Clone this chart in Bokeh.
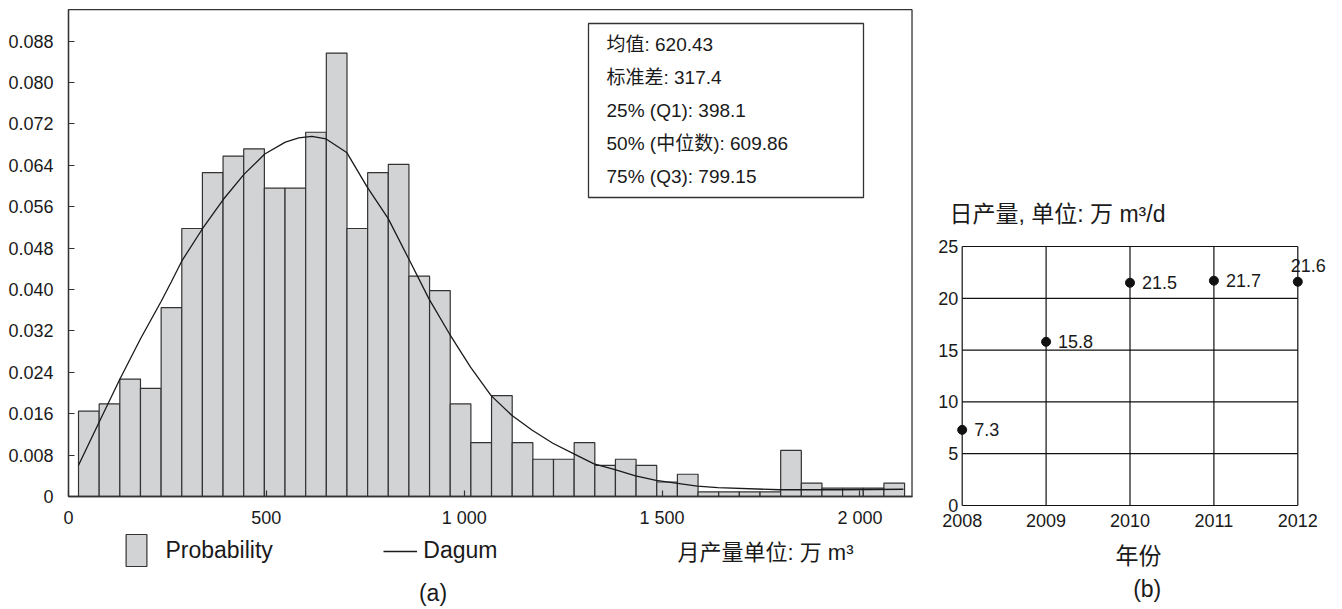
from bokeh.plotting import figure
from bokeh.models import (Range1d, FixedTicker, CustomJSTickFormatter, Label, LabelSet,
                          BoxAnnotation, Legend, LegendItem, ColumnDataSource)
from bokeh.layouts import row
from bokeh.embed import file_html
from bokeh.resources import INLINE
from bokeh.core.properties import value

# ---------------- data: panel (a) ----------------
bin_edges = [25.3, 77.5, 129.7, 181.9, 234.1, 286.3, 338.4, 390.6, 442.8, 495.0,
             547.2, 599.4, 651.6, 703.8, 756.0, 808.2, 860.3, 912.5, 964.7, 1016.9,
             1069.1, 1121.3, 1173.5, 1225.7, 1277.9, 1330.1, 1382.2, 1434.4, 1486.6, 1538.8,
             1591.0, 1643.2, 1695.4, 1747.6, 1799.8, 1852.0, 1904.1, 1956.3, 2008.5, 2060.7,
             2112.9]
probability = [0.0165, 0.0179, 0.0227, 0.0209, 0.0365, 0.0518, 0.0626, 0.0658, 0.0672, 0.0596,
               0.0596, 0.0704, 0.0857, 0.0518, 0.0626, 0.0642, 0.0426, 0.0398, 0.0179, 0.0104,
               0.0195, 0.0104, 0.0072, 0.0072, 0.0104, 0.0060, 0.0072, 0.0060, 0.0028, 0.0043,
               0.0009, 0.0009, 0.0009, 0.0009, 0.0089, 0.0026, 0.0016, 0.0016, 0.0016, 0.0026]
dagum_x = [25, 77, 130, 182, 234, 260, 287, 339, 391, 444, 496, 548, 582, 615, 651, 703, 755,
           808, 860, 911, 963, 1016, 1068, 1120, 1172, 1224, 1276, 1328, 1381, 1433, 1485, 1589,
           1641, 1798, 1950, 2110]
dagum_y = [0.0060, 0.0143, 0.0227, 0.0305, 0.0377, 0.0415, 0.0456, 0.0518, 0.0574, 0.0623,
           0.0662, 0.0685, 0.0693, 0.0696, 0.0691, 0.0665, 0.0598, 0.0537, 0.0459, 0.0382,
           0.0314, 0.0250, 0.0195, 0.0157, 0.0128, 0.0103, 0.0083, 0.0063, 0.0052, 0.0040,
           0.0031, 0.0020, 0.0017, 0.0013, 0.0013, 0.0014]
x_ticks = [0, 500, 1000, 1500, 2000]
y_ticks = [0, 0.008, 0.016, 0.024, 0.032, 0.040, 0.048, 0.056, 0.064, 0.072, 0.080, 0.088]
stats_lines = ["均值: 620.43", "标准差: 317.4", "25% (Q1): 398.1",
               "50% (中位数): 609.86", "75% (Q3): 799.15"]
legend_labels = ["Probability", "Dagum"]
x_title_a = "月产量单位: 万 m³"

# ---------------- data: panel (b) ----------------
years = [2008, 2009, 2010, 2011, 2012]
daily_output = [7.3, 15.8, 21.5, 21.7, 21.6]
y2_ticks = [0, 5, 10, 15, 20, 25]
title_b = "日产量, 单位: 万 m³/d"
x_title_b = "年份"

LATIN = "Liberation Sans"
MIXED = "Liberation Sans, Noto Sans CJK SC"
INK = "#1a1a1a"
EDGE = "#333333"

# ---- panel (a) geometry: the frame fills the canvas; the axis box is drawn inside ----
A_W, A_H = 915, 609
A_LEFT = 68            # px of x = 0
A_PX_X = 0.3957        # px per unit along x
A_ZERO_Y = 496         # px (from top) of y = 0
A_PX_Y = 5174.0        # px per unit along y
X_BOX_END = 2131.7     # right edge of the axis box
Y_BOX_TOP = 0.0941     # top edge of the axis box
x1_start = -A_LEFT / A_PX_X
x1_end = (A_W - A_LEFT) / A_PX_X
y1_start = -(A_H - A_ZERO_Y) / A_PX_Y
y1_end = A_ZERO_Y / A_PX_Y

p1 = figure(width=A_W, height=A_H, x_range=Range1d(x1_start, x1_end),
            y_range=Range1d(y1_start, y1_end),
            output_backend="svg", toolbar_location=None, min_border=0)
p1.background_fill_color = "white"
p1.border_fill_color = "white"
p1.outline_line_color = None
p1.xgrid.visible = False
p1.ygrid.visible = False

r_bar = p1.quad(left=bin_edges[:-1], right=bin_edges[1:], bottom=0, top=probability,
                fill_color="#d2d3d5", line_color=EDGE, line_width=1.2)
r_line = p1.line(dagum_x, dagum_y, line_color=INK, line_width=1.3)

# axis box
p1.add_layout(BoxAnnotation(left=0, right=X_BOX_END, bottom=0, top=Y_BOX_TOP,
                            fill_color=None, fill_alpha=0, line_color=EDGE,
                            line_alpha=1.0, line_width=1.3))

xa = p1.xaxis[0]
xa.fixed_location = 0
xa.bounds = (0, X_BOX_END)
xa.ticker = FixedTicker(ticks=x_ticks)
xa.formatter = CustomJSTickFormatter(code="""
const t = Math.round(tick);
if (t >= 1000) { const r = t % 1000; return Math.floor(t/1000) + " " + (r < 10 ? "00" : (r < 100 ? "0" : "")) + r; }
return String(t);
""")
ya = p1.yaxis[0]
ya.fixed_location = 0
ya.bounds = (0, Y_BOX_TOP)
ya.ticker = FixedTicker(ticks=y_ticks)
ya.formatter = CustomJSTickFormatter(code='return tick == 0 ? "0" : tick.toFixed(3);')
for ax in (xa, ya):
    ax.major_tick_in = 6
    ax.major_tick_out = 0
    ax.minor_tick_line_color = None
    ax.axis_line_color = EDGE
    ax.axis_line_width = 1.3
    ax.major_tick_line_color = EDGE
    ax.major_tick_line_width = 1.2
    ax.major_label_text_font = LATIN
    ax.major_label_text_font_size = "18px"
    ax.major_label_text_color = INK
xa.major_label_standoff = 11
ya.major_label_standoff = 15

# statistics box (screen units, from the frame's bottom-left corner)
p1.add_layout(BoxAnnotation(left=588, right=863, bottom=412, top=586,
                            left_units="screen", right_units="screen",
                            bottom_units="screen", top_units="screen",
                            fill_color=None, fill_alpha=0, line_color=EDGE,
                            line_alpha=1.0, line_width=1.3))
stat_y = [565.5, 532, 499, 466, 433]
for txt, yy in zip(stats_lines, stat_y):
    p1.add_layout(Label(x=606, y=yy, x_units="screen", y_units="screen", text=txt,
                        text_font=MIXED, text_font_size="19px", text_color=INK,
                        text_baseline="middle", text_align="left"))

# legends under the axis box
leg1 = Legend(items=[LegendItem(label=legend_labels[0], renderers=[r_bar])],
              location=(123.4, 39), orientation="horizontal",
              glyph_width=26, glyph_height=40, label_standoff=16,
              padding=0, margin=0, spacing=0, border_line_color=None,
              background_fill_alpha=0, label_text_font=LATIN,
              label_text_font_size="23px", label_text_color=INK)
leg2 = Legend(items=[LegendItem(label=legend_labels[1], renderers=[r_line])],
              location=(383.3, 45), orientation="horizontal",
              glyph_width=34, glyph_height=20, label_standoff=6,
              padding=0, margin=0, spacing=0, border_line_color=None,
              background_fill_alpha=0, label_text_font=LATIN,
              label_text_font_size="23px", label_text_color=INK)
p1.add_layout(leg1)
p1.add_layout(leg2)

p1.add_layout(Label(x=677, y=57, x_units="screen", y_units="screen", text=x_title_a,
                    text_font=MIXED, text_font_size="22px", text_color=INK,
                    text_baseline="middle", text_align="left"))
p1.add_layout(Label(x=432.5, y=17, x_units="screen", y_units="screen", text="(a)",
                    text_font=LATIN, text_font_size="23px", text_color=INK,
                    text_baseline="middle", text_align="center"))

# ---- panel (b) geometry: frame fills the whole canvas ----
B_W, B_H = 427, 609
B_X0 = 46.7            # px of 2008
B_PX_X = 83.9          # px per year
B_Y0 = 505.0           # px (from top) of 0
B_PX_Y = 10.36         # px per unit
x2_start = years[0] - B_X0 / B_PX_X
x2_end = years[0] + (B_W - B_X0) / B_PX_X
y2_start = -(B_H - B_Y0) / B_PX_Y
y2_end = B_Y0 / B_PX_Y

p2 = figure(width=B_W, height=B_H, x_range=Range1d(x2_start, x2_end),
            y_range=Range1d(y2_start, y2_end),
            output_backend="svg", toolbar_location=None, min_border=0)
p2.background_fill_color = "white"
p2.border_fill_color = "white"
p2.outline_line_color = None
p2.xgrid.visible = False
p2.ygrid.visible = False

# grid box built from the tick lists
p2.segment(x0=years, y0=[y2_ticks[0]] * len(years), x1=years, y1=[y2_ticks[-1]] * len(years),
           line_color="#111111", line_width=1.2)
p2.segment(x0=[years[0]] * len(y2_ticks), y0=y2_ticks, x1=[years[-1]] * len(y2_ticks), y1=y2_ticks,
           line_color="#111111", line_width=1.2)

p2.scatter(years, daily_output, size=9, color="#111111")

xb = p2.xaxis[0]
xb.fixed_location = y2_ticks[0]
xb.ticker = FixedTicker(ticks=years)
yb = p2.yaxis[0]
yb.fixed_location = years[0]
yb.ticker = FixedTicker(ticks=y2_ticks)
for ax in (xb, yb):
    ax.major_tick_in = 0
    ax.major_tick_out = 0
    ax.minor_tick_line_color = None
    ax.major_tick_line_color = None
    ax.axis_line_color = None
    ax.major_label_text_font = LATIN
    ax.major_label_text_font_size = "18px"
    ax.major_label_text_color = INK
xb.major_label_standoff = 8
yb.major_label_standoff = 4

src_main = ColumnDataSource(dict(x=years[:4], y=daily_output[:4],
                                 t=[str(v) for v in daily_output[:4]]))
src_last = ColumnDataSource(dict(x=years[4:], y=daily_output[4:],
                                 t=[str(v) for v in daily_output[4:]]))
p2.add_layout(LabelSet(x="x", y="y", text="t", source=src_main, x_offset=12, y_offset=0,
                       text_font=value(LATIN), text_font_size=value("18px"), text_color=INK,
                       text_baseline="middle", text_align="left"))
p2.add_layout(LabelSet(x="x", y="y", text="t", source=src_last, x_offset=-7, y_offset=16,
                       text_font=value(LATIN), text_font_size=value("18px"), text_color=INK,
                       text_baseline="middle", text_align="left"))

p2.add_layout(Label(x=34, y=396, x_units="screen", y_units="screen", text=title_b,
                    text_font=MIXED, text_font_size="23px", text_color=INK,
                    text_baseline="middle", text_align="left"))
p2.add_layout(Label(x=223, y=54, x_units="screen", y_units="screen", text=x_title_b,
                    text_font=MIXED, text_font_size="23px", text_color=INK,
                    text_baseline="middle", text_align="center"))
p2.add_layout(Label(x=231.7, y=21, x_units="screen", y_units="screen", text="(b)",
                    text_font=LATIN, text_font_size="23px", text_color=INK,
                    text_baseline="middle", text_align="center"))

layout = row(p1, p2)
open("out.html", "w").write(file_html(layout, INLINE))
